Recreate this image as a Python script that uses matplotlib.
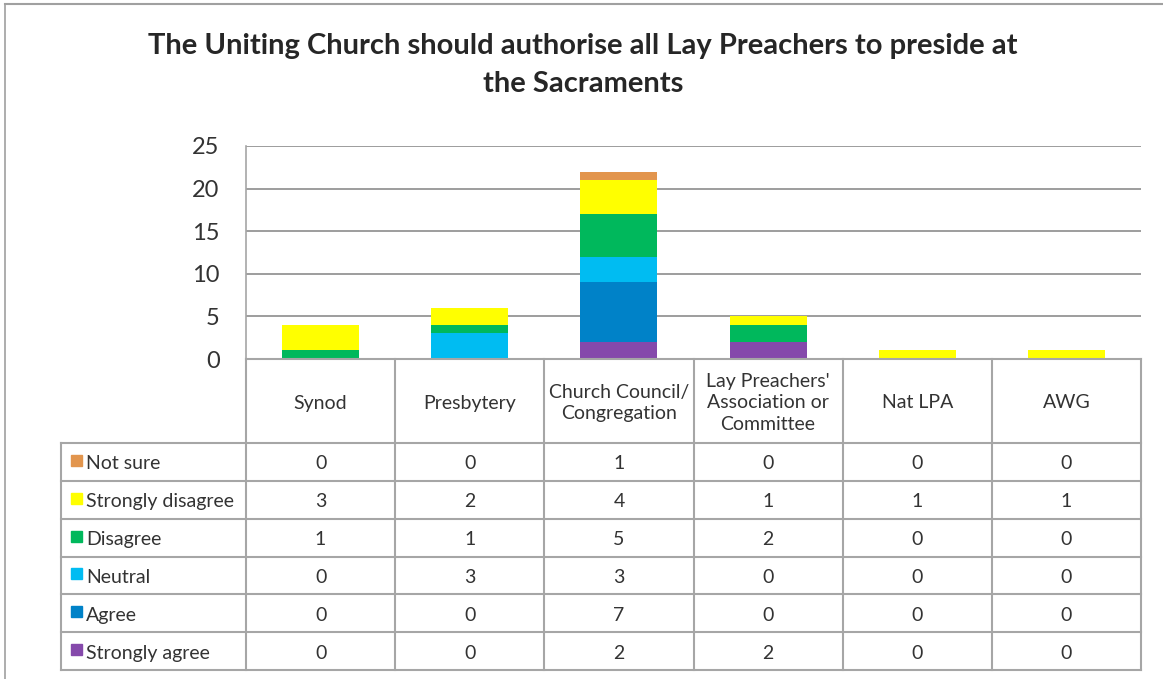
import matplotlib
matplotlib.use("Agg")
import matplotlib.pyplot as plt
from matplotlib.lines import Line2D
from matplotlib.patches import Rectangle
import numpy as np

plt.rcParams['font.family'] = ['Lato', 'DejaVu Sans']

# data
categories = ["Synod", "Presbytery", "Church Council/\nCongregation",
              "Lay Preachers'\nAssociation or\nCommittee", "Nat LPA", "AWG"]
# stacking order bottom -> top
series_names = ["Strongly agree", "Agree", "Neutral", "Disagree",
                "Strongly disagree", "Not sure"]
strongly_agree = [0, 0, 2, 2, 0, 0]
agree = [0, 0, 7, 0, 0, 0]
neutral = [0, 3, 3, 0, 0, 0]
disagree = [1, 1, 5, 2, 0, 0]
strongly_disagree = [3, 2, 4, 1, 1, 1]
not_sure = [0, 0, 1, 0, 0, 0]
series_vals = [strongly_agree, agree, neutral, disagree, strongly_disagree, not_sure]
colors = ["#8549AB", "#0082C8", "#00BCF2", "#00B85C", "#FFFF00", "#E2954D"]
yticks = [0, 5, 10, 15, 20, 25]

W, H = 1163, 679
fig = plt.figure(figsize=(W / 100, H / 100), dpi=100)

def fx(px):
    return px / W

def fy(py):
    return 1 - py / H

GRID = "#8c8c8c"
TBL = "#a6a6a6"
TXT = "#333333"
FS = 14

# chart area border (top and left)
fig.add_artist(Line2D([fx(5), fx(W)], [fy(4), fy(4)], color="#a0a0a0", lw=1.5))
fig.add_artist(Line2D([fx(5), fx(5)], [fy(4), fy(H)], color="#a0a0a0", lw=1.2))

fig.text(fx(583), fy(46), "The Uniting Church should authorise all Lay Preachers to preside at",
         ha="center", va="center", fontsize=21, fontweight="bold", color="#262626")
fig.text(fx(583), fy(84), "the Sacraments",
         ha="center", va="center", fontsize=21, fontweight="bold", color="#262626")

x0, x1, ytop, ybot = 246, 1141, 146, 359
ax = fig.add_axes([fx(x0), fy(ybot), fx(x1 - x0), (ybot - ytop) / H])
x = np.arange(len(categories))
bottom = np.zeros(len(categories))
for name, vals, c in zip(series_names, series_vals, colors):
    ax.bar(x, vals, bottom=bottom, width=0.516, color=c, label=name, zorder=3)
    bottom += np.array(vals)
ax.set_xlim(-0.5, len(categories) - 0.5)
ax.set_ylim(0, 25)
ax.set_yticks(yticks)
ax.set_yticklabels([str(t) for t in yticks], fontsize=17, color=TXT)
ax.tick_params(axis="y", length=0, pad=19)
ax.set_xticks([])
for t in yticks[1:]:
    ax.axhline(t, color=GRID, lw=1.2, zorder=1)
for s in ["top", "right", "bottom"]:
    ax.spines[s].set_visible(False)
ax.spines["left"].set_color(TBL)
ax.spines["left"].set_linewidth(1.2)

# data table
col_edges = np.linspace(x0, x1, len(categories) + 1)
row_edges = np.linspace(443, 670, 7)
tleft = 61
fig.add_artist(Line2D([fx(x0), fx(x1)], [fy(ybot), fy(ybot)], color=TBL, lw=1.5))
for ry in row_edges:
    fig.add_artist(Line2D([fx(tleft), fx(x1)], [fy(ry), fy(ry)], color=TBL, lw=1.5))
for cx in col_edges:
    fig.add_artist(Line2D([fx(cx), fx(cx)], [fy(ybot), fy(670)], color=TBL, lw=1.5))
fig.add_artist(Line2D([fx(tleft), fx(tleft)], [fy(443), fy(670)], color=TBL, lw=1.5))

for i, cat in enumerate(categories):
    cx = (col_edges[i] + col_edges[i + 1]) / 2
    fig.text(fx(cx), fy(403), cat, ha="center", va="center", fontsize=FS,
             color=TXT, linespacing=1.35)

# table rows top -> bottom
for r, idx in enumerate(range(len(series_names) - 1, -1, -1)):
    cy = (row_edges[r] + row_edges[r + 1]) / 2
    fig.add_artist(Rectangle((fx(71), fy(cy + 4)), fx(11), 11 / H,
                             color=colors[idx], transform=fig.transFigure))
    fig.text(fx(86), fy(cy + 2), series_names[idx], ha="left", va="center",
             fontsize=FS, color=TXT)
    for i, v in enumerate(series_vals[idx]):
        cx = (col_edges[i] + col_edges[i + 1]) / 2
        fig.text(fx(cx), fy(cy + 2), str(v), ha="center", va="center",
                 fontsize=FS, color=TXT)

fig.savefig("out.png", dpi=100)
